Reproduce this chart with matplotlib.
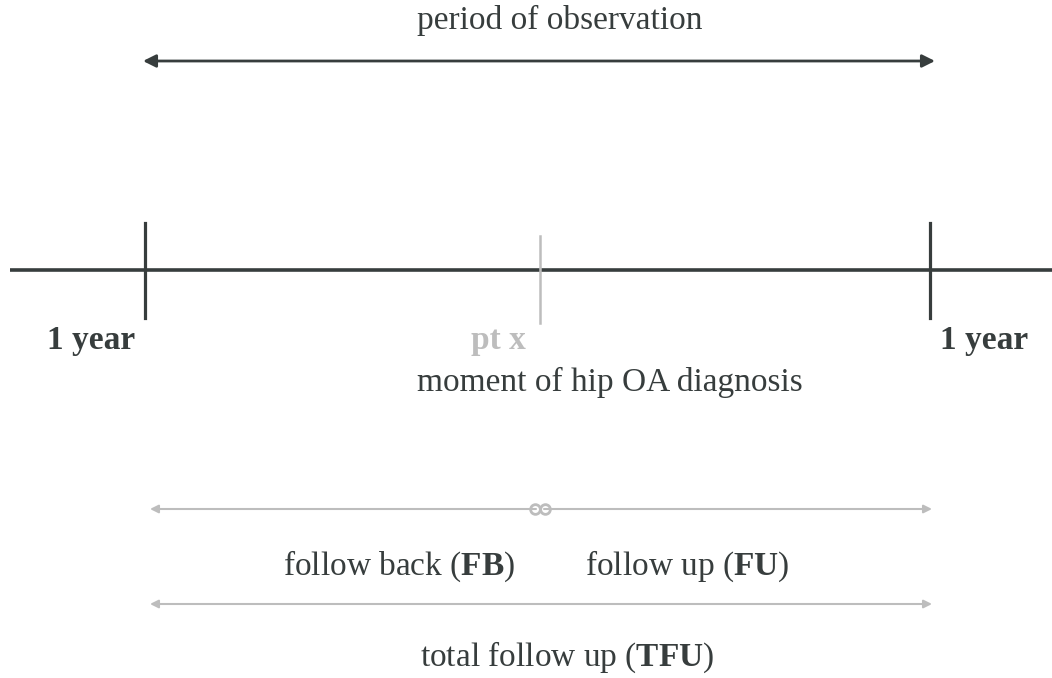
import matplotlib.pyplot as plt
from matplotlib.patches import FancyArrowPatch

plt.rcParams['font.family'] = 'Liberation Serif'
plt.rcParams['mathtext.fontset'] = 'custom'
plt.rcParams['mathtext.rm'] = 'Liberation Serif'
plt.rcParams['mathtext.bf'] = 'Liberation Serif:bold'

# timeline positions (pixel space of the original figure)
timeline_y = 270
tick_x = [145, 930]
tick_labels = ['1 year', '1 year']
tick_label_x = [91, 984]
diag_x = 540
diag_label = 'pt x'

dark = '#373d3d'
light = '#bdbdbd'
fs = 24

fig = plt.figure(figsize=(10.52, 6.78), dpi=100)
ax = fig.add_axes([0, 0, 1, 1])
ax.set_xlim(0, 1052)
ax.set_ylim(678, 0)
ax.axis('off')

def arrow(x0, x1, y, color, lw, style='<|-|>', ms=14):
    ax.add_patch(FancyArrowPatch((x0, y), (x1, y), arrowstyle=style, mutation_scale=ms,
                                 color=color, lw=lw, shrinkA=0, shrinkB=0))

# period of observation
arrow(143, 935, 61, dark, 2.0, ms=19)
ax.text(560, 20, 'period of observation', ha='center', va='center', fontsize=fs, color=dark)

# main timeline
ax.plot([10, 1052], [timeline_y, timeline_y], color=dark, lw=2.6, solid_capstyle='butt')
for x in tick_x:
    ax.plot([x, x], [223, 318], color=dark, lw=2.3)
ax.plot([diag_x, diag_x], [236, 323], color=light, lw=1.8)

for x, lab in zip(tick_label_x, tick_labels):
    ax.text(x, 340, lab, ha='center', va='center', fontsize=fs, fontweight='bold', color=dark)
ax.text(498, 340, diag_label, ha='center', va='center', fontsize=fs, fontweight='bold', color=light)
ax.text(610, 382, 'moment of hip OA diagnosis', ha='center', va='center', fontsize=fs, color=dark)

# follow back / follow up
arrow(150, 536, 509, light, 1.5, style='<|-', ms=12)
arrow(544, 932, 509, light, 1.5, style='-|>', ms=12)
ax.plot([535, 545], [509, 509], 'o', color=light, ms=7, mfc='none', mew=2)
ax.text(399, 566, r'follow back ($\mathbf{FB}$)', ha='center', va='center', fontsize=fs, color=dark)
ax.text(687, 566, r'follow up ($\mathbf{FU}$)', ha='center', va='center', fontsize=fs, color=dark)

# total follow up
arrow(150, 932, 604, light, 1.5, ms=12)
ax.text(567, 657, r'total follow up ($\mathbf{TFU}$)', ha='center', va='center', fontsize=fs, color=dark)

fig.savefig('out.png', dpi=100)
